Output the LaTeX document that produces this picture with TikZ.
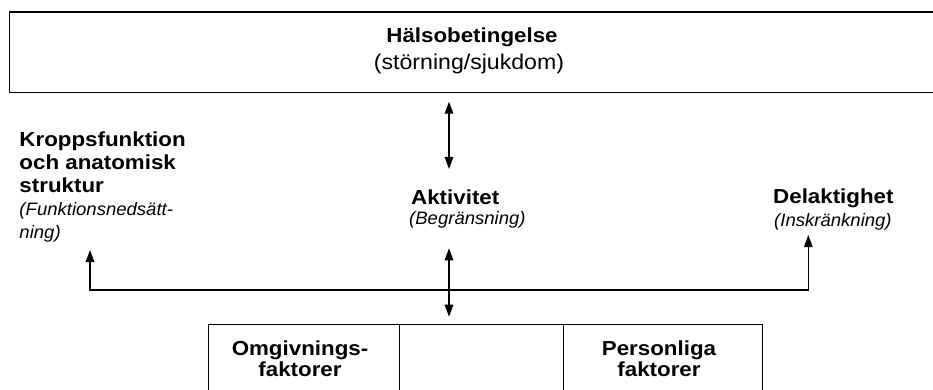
\documentclass[tikz,border=0pt]{standalone}
\usepackage{fontspec}
\setmainfont{Liberation Sans}
\usetikzlibrary{arrows.meta}
\newcommand\wideB[1]{\scalebox{1.1}[1]{\fontsize{20.3}{22}\selectfont\bfseries #1}}
\newcommand\wideI[1]{\scalebox{1.03}[1]{\fontsize{18}{20}\selectfont\itshape #1}}
\newcommand\wideR[1]{\scalebox{1.08}[1]{\fontsize{21.4}{24}\selectfont #1}}
\begin{document}
\begin{tikzpicture}[x=1pt,y=-1pt,
  lbl/.style={inner sep=0pt, anchor=base west},
  ctr/.style={inner sep=0pt, anchor=base},
  frame/.style={draw, line width=1.2pt, inner sep=0pt, anchor=north west},
  tip/.tip={Triangle[width=8.5pt,length=12pt]},
  link/.style={line width=1.3pt, tip-tip}]
\useasboundingbox (0,0) rectangle (933,390);

% top box
\node[frame, minimum width=932pt, minimum height=80.5pt] (health) at (8.5,11.5) {};
\node[ctr] (hT) at (472,42.3) {\wideB{Hälsobetingelse}};
\node[ctr] (hS) at (469,70) {\wideR{(störning/sjukdom)}};

% body functions
\node[lbl] (k1) at (19.3,146.7) {\wideB{Kroppsfunktion}};
\node[lbl] (k2) at (19.3,169.5) {\wideB{och anatomisk}};
\node[lbl] (k3) at (19.3,192) {\wideB{struktur}};
\node[lbl] (k4) at (19.3,215) {\wideI{(Funktionsnedsätt-}};
\node[lbl] (k5) at (19.3,238) {\wideI{ning)}};

% activity
\node[lbl] (a1) at (411,204) {\wideB{Aktivitet}};
\node[lbl] (a2) at (409,224) {\wideI{(Begränsning)}};

% participation
\node[lbl] (d1) at (773,203) {\wideB{Delaktighet}};
\node[lbl] (d2) at (774,226.5) {\wideI{(Inskränkning)}};

% bottom boxes
\node[frame, minimum width=191pt, minimum height=80pt] (env) at (208,324) {};
\node[frame, minimum width=164pt, minimum height=80pt] (mid) at (399,324) {};
\node[frame, minimum width=199pt, minimum height=80pt] (pers) at (563,324) {};
\node[ctr] (e1) at (300,355) {\wideB{Omgivnings-}};
\node[ctr] (e2) at (300,376.5) {\wideB{faktorer}};
\node[ctr] (p1) at (659,355) {\wideB{Personliga}};
\node[ctr] (p2) at (659,376.5) {\wideB{faktorer}};

% connectors
\coordinate (u1) at (449,101.7);
\coordinate (u2) at (449,169);
\coordinate (l1) at (449,248.3);
\coordinate (l2) at (449,316.7);
\coordinate (kL) at (90,290);
\coordinate (kLtip) at (90,250);
\coordinate (kR) at (808.3,290);
\coordinate (kRtip) at (808.3,235);
\draw[link] (u1) -- (u2);
\draw[link] (l1) -- (l2);
\draw[link] (kLtip) -- (kL) -- (kR) -- (kRtip);
\end{tikzpicture}
\end{document}
